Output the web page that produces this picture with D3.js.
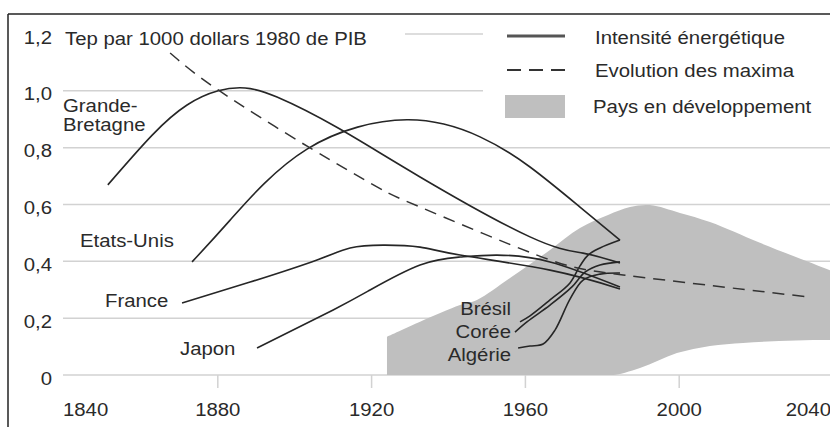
<!DOCTYPE html>
<html>
<head>
<meta charset="utf-8">
<script src="https://cdn.jsdelivr.net/npm/d3@7/dist/d3.min.js"></script>
<style>
  html, body { margin: 0; padding: 0; background: #fff; }
  svg { display: block; }
  text { font-family: "Liberation Sans", Arial, Helvetica, sans-serif; font-size: 18.5px; fill: #2a2a2a; }
</style>
</head>
<body>
<svg id="chart" width="830" height="427"></svg>
<script>
// ---------- data ----------
const yTicks = [0, 0.2, 0.4, 0.6, 0.8, 1.0, 1.2];
const yTickLabels = ["0", "0,2", "0,4", "0,6", "0,8", "1,0", "1,2"];
const xTicks = [1840, 1880, 1920, 1960, 2000, 2040];
const xTickLabels = ["1840", "1880", "1920", "1960", "2000", "2040"];

const grandeBretagne = [[1851.4,0.669],[1863.0,0.845],[1872.0,0.950],[1880.1,1.000],[1887.1,1.010],[1895.4,0.978],[1911.3,0.869],[1932.6,0.697],[1961.2,0.486],[1975.0,0.429],[1984.6,0.394]];
const etatsUnis = [[1873.3,0.398],[1883.2,0.545],[1903.2,0.795],[1929.2,0.898],[1948.2,0.838],[1961.2,0.732],[1974.2,0.591],[1984.6,0.475]];
const france = [[1870.7,0.253],[1888.4,0.327],[1905.8,0.405],[1914.4,0.447],[1923.0,0.457],[1932.6,0.450],[1943.0,0.422],[1966.4,0.369],[1984.6,0.303]];
const japon = [[1890.2,0.095],[1910.0,0.229],[1919.6,0.299],[1932.6,0.387],[1943.0,0.415],[1952.6,0.422],[1966.4,0.398],[1984.6,0.310]];
const bresil = [[1958.6,0.187],[1961.2,0.208],[1966.4,0.264],[1971.6,0.324],[1974.2,0.384],[1976.3,0.422],[1979.4,0.447],[1984.6,0.475]];
const coree = [[1957.3,0.151],[1960.4,0.187],[1966.4,0.246],[1972.1,0.310],[1975.5,0.362],[1979.4,0.387],[1984.6,0.398]];
const algerie = [[1958.1,0.095],[1961.2,0.102],[1964.6,0.109],[1967.7,0.158],[1971.6,0.267],[1975.0,0.334],[1979.4,0.355],[1984.6,0.359]];
const maxima = [[1867.6,1.133],[1880.1,1.003],[1904.0,0.799],[1921.4,0.662],[1932.6,0.591],[1963.0,0.422],[1985.4,0.352],[2034.0,0.274]];
const devUpper = [[1924.0,0.134],[1932.6,0.187],[1943.0,0.246],[1947.4,0.264],[1956.0,0.341],[1966.4,0.440],[1974.2,0.517],[1981.5,0.563],[1987.2,0.591],[1992.4,0.598],[2000.2,0.570],[2008.0,0.538],[2021.0,0.465],[2039.2,0.369],[2041,0.360]];
const devLower = [[1924.0,0],[1982.0,0],[1989.8,0.025],[1999.4,0.077],[2016.6,0.113],[2039.2,0.123],[2041,0.123]];

const curveLabels = [
  {lines: ["Grande-", "Bretagne"], x: 63, y: 112, anchor: "start"},
  {lines: ["Etats-Unis"], x: 80, y: 247, anchor: "start"},
  {lines: ["France"], x: 105, y: 307, anchor: "start"},
  {lines: ["Japon"], x: 180, y: 355, anchor: "start"},
  {lines: ["Brésil"], x: 511, y: 315, anchor: "end"},
  {lines: ["Corée"], x: 511, y: 338, anchor: "end"},
  {lines: ["Algérie"], x: 511, y: 361, anchor: "end"}
];
const unitTitle = "Tep par 1000 dollars 1980 de PIB";
const legendItems = ["Intensité énergétique", "Evolution des maxima", "Pays en développement"];

// ---------- drawing ----------
const svg = d3.select("#chart");
const x = d3.scaleLinear().domain([1840, 2040]).range([64, 833]);
const y = d3.scaleLinear().domain([0, 1.2]).range([375, 34]);
const SX = 1.1;

function txt(g, px, py, s, anchor) {
  return g.append("text")
    .attr("transform", `translate(${px},${py}) scale(${SX},1)`)
    .attr("text-anchor", anchor || "start")
    .text(s);
}

// frame
svg.append("line").attr("x1", 8).attr("x2", 830).attr("y1", 14).attr("y2", 14)
  .attr("stroke", "#222").attr("stroke-width", 1.5);
svg.append("line").attr("x1", 8).attr("x2", 8).attr("y1", 14).attr("y2", 427)
  .attr("stroke", "#222").attr("stroke-width", 1.5);

// gridlines
const grid = svg.append("g");
yTicks.forEach(t => {
  let x1 = 63, x2 = 830;
  if (t >= 1.0) x2 = 483;
  if (t >= 1.2) x1 = 405;
  grid.append("line").attr("x1", x1).attr("x2", x2)
    .attr("y1", y(t)).attr("y2", y(t))
    .attr("stroke", "#d2d2d2").attr("stroke-width", 1.5);
});

// x ticks
xTicks.forEach((t, i) => {
  if (i > 0 && i < xTicks.length - 1) {
    grid.append("line").attr("x1", x(t)).attr("x2", x(t)).attr("y1", 375).attr("y2", 388)
      .attr("stroke", "#d2d2d2").attr("stroke-width", 1.5);
  }
});

// developing countries area
const lineMono = d3.line().x(d => x(d[0])).y(d => y(d[1])).curve(d3.curveMonotoneX);
const lineSmooth = d3.line().x(d => x(d[0])).y(d => y(d[1])).curve(d3.curveCatmullRom.alpha(0.5));
const lineNatural = d3.line().x(d => x(d[0])).y(d => y(d[1])).curve(d3.curveNatural);
const areaPath = lineSmooth(devUpper) + lineMono(devLower.slice().reverse()).replace(/^M/, "L") + "Z";
svg.append("path").attr("d", areaPath).attr("fill", "#bfbfbf");

// curves
[grandeBretagne, etatsUnis, france, japon].forEach(s => {
  svg.append("path").attr("d", lineNatural(s))
    .attr("fill", "none").attr("stroke", "#262626").attr("stroke-width", 1.6);
});
[bresil, coree, algerie].forEach(s => {
  svg.append("path").attr("d", lineSmooth(s))
    .attr("fill", "none").attr("stroke", "#262626").attr("stroke-width", 1.6);
});
svg.append("path").attr("d", lineNatural(maxima))
  .attr("fill", "none").attr("stroke", "#333").attr("stroke-width", 1.5)
  .attr("stroke-dasharray", "12,8");

// y labels
const labels = svg.append("g");
yTicks.forEach((t, i) => {
  txt(labels, 52, y(t) + 9.5, yTickLabels[i], "end");
});
// x labels
xTicks.forEach((t, i) => {
  let anchor = "middle", px = x(t);
  if (i === 0) { anchor = "start"; px = x(t) - 1; }
  if (i === xTicks.length - 1) { anchor = "end"; px = 831; }
  txt(labels, px, 416, xTickLabels[i], anchor);
});

// unit title
txt(labels, 65, 45, unitTitle, "start");

// curve labels
curveLabels.forEach(l => {
  l.lines.forEach((s, k) => txt(labels, l.x, l.y + k * 19, s, l.anchor));
});

// legend
const lg = svg.append("g");
lg.append("line").attr("x1", 507).attr("x2", 565).attr("y1", 36).attr("y2", 36)
  .attr("stroke", "#555").attr("stroke-width", 3);
lg.append("line").attr("x1", 507).attr("x2", 565).attr("y1", 70).attr("y2", 70)
  .attr("stroke", "#333").attr("stroke-width", 2).attr("stroke-dasharray", "14,8");
lg.append("rect").attr("x", 505).attr("y", 95).attr("width", 60).attr("height", 23)
  .attr("fill", "#bfbfbf");
txt(lg, 595, 44, legendItems[0], "start");
txt(lg, 595, 77, legendItems[1], "start");
txt(lg, 593, 113, legendItems[2], "start");
</script>
</body>
</html>
